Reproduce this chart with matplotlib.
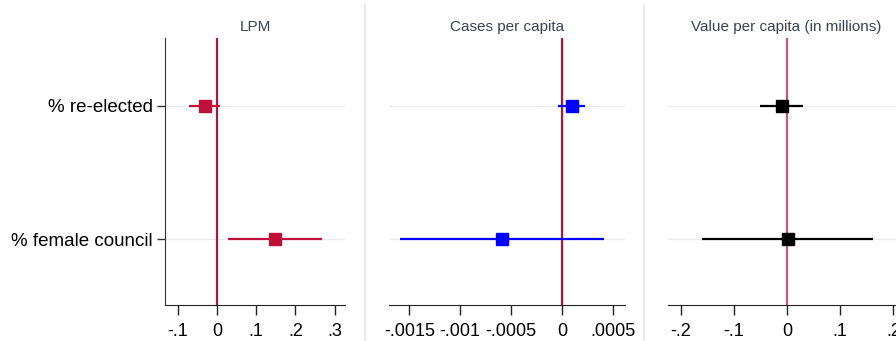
import matplotlib
matplotlib.use("Agg")
import matplotlib.pyplot as plt
from matplotlib.lines import Line2D

plt.rcParams['font.family'] = ['Liberation Sans', 'DejaVu Sans']

# coefficient estimates with 95% intervals, rows top to bottom
rows = ['% re-elected', '% female council']
row_pos = [2, 1]

lpm_coef = [-0.030, 0.148]
lpm_lo = [-0.071, 0.028]
lpm_hi = [0.008, 0.267]

cases_coef = [0.000095, -0.00059]
cases_lo = [-0.00004, -0.00159]
cases_hi = [0.00023, 0.00041]

value_coef = [-0.010, 0.001]
value_lo = [-0.050, -0.160]
value_hi = [0.030, 0.162]

titles = ['LPM', 'Cases per capita', 'Value per capita (in millions)']
xticks_1 = [-0.1, 0, 0.1, 0.2, 0.3]
xticklabels_1 = ['-.1', '0', '.1', '.2', '.3']
xticks_2 = [-0.0015, -0.001, -0.0005, 0, 0.0005]
xticklabels_2 = ['-.0015', '-.001', '-.0005', '0', '.0005']
xticks_3 = [-0.2, -0.1, 0, 0.1, 0.2]
xticklabels_3 = ['-.2', '-.1', '0', '.1', '.2']

fig = plt.figure(figsize=(8.96, 3.41), dpi=100)
W, H = 896, 341


def make_ax(x0, x1):
    return fig.add_axes([x0 / W, (H - 305) / H, (x1 - x0) / W, 267 / H])


ax1 = make_ax(165, 345)
ax2 = make_ax(389, 625)
ax3 = make_ax(668, 904)

panels = [
    (ax1, lpm_coef, lpm_lo, lpm_hi, '#c0103a', '#a8173f', (-0.132, 0.326), xticks_1, xticklabels_1),
    (ax2, cases_coef, cases_lo, cases_hi, '#0000ff', '#a8173f', (-0.0017, 0.00062), xticks_2, xticklabels_2),
    (ax3, value_coef, value_lo, value_hi, '#000000', '#c2577f', (-0.224, 0.22), xticks_3, xticklabels_3),
]

for i, (ax, coef, lo, hi, col, zcol, xl, xt, xtl) in enumerate(panels):
    for y in row_pos:
        ax.axhline(y, color='#ebebeb', lw=1.0, zorder=0)
    ax.axvline(0, color=zcol, lw=1.6, zorder=1)
    ax.hlines(row_pos, lo, hi, color=col, lw=1.6, zorder=2)
    ax.plot(coef, row_pos, 's', color=col, ms=8, zorder=3, linestyle='none')

    ax.set_xlim(*xl)
    ax.set_ylim(0.504, 2.511)
    ax.set_xticks(xt)
    ax.set_xticklabels(xtl, fontsize=13)
    ax.tick_params(axis='x', length=7, width=1, color='#222222', pad=6)
    ax.set_title(titles[i], fontsize=11, color='#3a4352', pad=5)

    for s in ['top', 'right']:
        ax.spines[s].set_visible(False)
    ax.spines['bottom'].set_color('#222222')
    if i == 0:
        ax.spines['left'].set_color('#333333')
        ax.set_yticks(row_pos)
        ax.set_yticklabels(rows, fontsize=13.5)
        ax.tick_params(axis='y', length=6, width=1, color='#333333', pad=3)
    else:
        ax.spines['left'].set_visible(False)
        ax.set_yticks([])

# light separators between panels
for xs in [365, 644]:
    fig.add_artist(Line2D([xs / W, xs / W], [0, 1 - 5 / H], color='#e6e6e6', lw=1.2))

fig.savefig('out.png', dpi=100, facecolor='white')
